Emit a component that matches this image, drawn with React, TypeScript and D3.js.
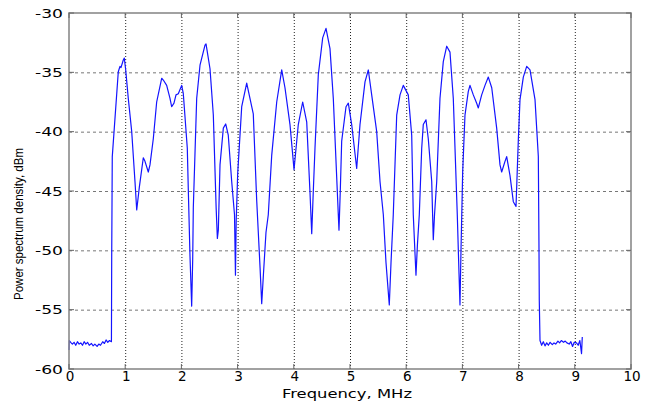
import React, { useEffect, useRef } from "react";
import * as d3 from "d3";

const freqMHz = [
  0, 0.005, 0.03, 0.06, 0.09, 0.12, 0.15, 0.18, 0.21, 0.24, 0.27, 0.3, 0.33, 0.36, 0.4, 0.43,
  0.46, 0.5, 0.53, 0.56, 0.6, 0.63, 0.66, 0.69, 0.72, 0.755, 0.76, 0.77, 0.877, 0.907, 0.925,
  0.966, 0.984, 1.009, 1.055, 1.116, 1.174, 1.205, 1.251, 1.322, 1.352, 1.411, 1.441, 1.5,
  1.56, 1.649, 1.678, 1.738, 1.797, 1.827, 1.868, 1.904, 1.945, 2.005, 2.034, 2.105, 2.123,
  2.153, 2.183, 2.201, 2.212, 2.272, 2.331, 2.42, 2.438, 2.509, 2.568, 2.618, 2.64, 2.657,
  2.687, 2.746, 2.788, 2.834, 2.895, 2.945, 2.962, 2.975, 3.002, 3.073, 3.162, 3.279, 3.34,
  3.4, 3.429, 3.46, 3.505, 3.546, 3.607, 3.696, 3.785, 3.843, 3.932, 4.004, 4.08, 4.158, 4.23,
  4.288, 4.319, 4.347, 4.377, 4.436, 4.514, 4.573, 4.644, 4.703, 4.792, 4.804, 4.827, 4.852,
  4.929, 4.97, 5.03, 5.119, 5.178, 5.267, 5.326, 5.386, 5.475, 5.534, 5.593, 5.64, 5.699,
  5.73, 5.77, 5.831, 5.89, 5.948, 6.037, 6.098, 6.126, 6.174, 6.2, 6.233, 6.276, 6.304, 6.352,
  6.393, 6.454, 6.482, 6.504, 6.543, 6.601, 6.66, 6.721, 6.779, 6.838, 6.909, 6.94, 6.957,
  6.975, 7.005, 7.046, 7.105, 7.135, 7.194, 7.254, 7.283, 7.343, 7.402, 7.461, 7.522, 7.61,
  7.669, 7.699, 7.758, 7.788, 7.847, 7.906, 7.954, 7.995, 8.025, 8.084, 8.144, 8.203, 8.292,
  8.351, 8.363, 8.368, 8.381, 8.41, 8.44, 8.47, 8.5, 8.53, 8.56, 8.6, 8.63, 8.66, 8.7, 8.73,
  8.76, 8.8, 8.83, 8.86, 8.9, 8.93, 8.96, 8.99, 9.03, 9.06, 9.09, 9.12, 9.133,
];

const psdDbm = [
  -58.4, -57.6, -57.75, -57.9, -57.75, -58.0, -57.7, -57.9, -57.8, -58.0, -57.7, -57.9, -57.75,
  -58.0, -57.85, -58.05, -57.9, -58.1, -57.9, -58.0, -57.7, -57.85, -57.55, -57.75, -57.6,
  -57.7, -50.4, -42.1, -34.95, -34.5, -34.6, -33.96, -33.8, -34.8, -37.2, -40.0, -44.2, -46.6,
  -44.7, -42.2, -42.5, -43.4, -42.8, -40.6, -37.5, -35.5, -35.65, -36.1, -37.2, -37.9, -37.6,
  -36.9, -36.8, -36.1, -36.8, -41.4, -44.9, -50.5, -54.7, -50.8, -46.4, -37.2, -34.4, -32.7,
  -32.6, -34.7, -38.6, -46.4, -49.0, -48.3, -42.8, -39.7, -39.35, -40.3, -44.2, -47, -52.1,
  -47.5, -43.5, -37.9, -35.9, -38.5, -45.8, -51.5, -54.5, -52, -48.5, -47, -42, -37.5, -34.8,
  -36.3, -39.4, -43.2, -39.4, -37.5, -39.2, -45.1, -48.6, -45, -41.4, -35.2, -32.1, -31.3, -33,
  -37.2, -47, -48.3, -45, -40.8, -37.9, -37.6, -39.4, -43.1, -39.4, -35.8, -34.8, -36.9, -40,
  -44.2, -47, -51, -54.6, -51, -47, -38.6, -36.9, -36.1, -36.9, -40.3, -47, -52.1, -49.5, -47,
  -41.4, -39.4, -39, -40.6, -44.2, -49.1, -47, -44.2, -37.2, -34.1, -32.8, -33.3, -37.2, -47,
  -52, -54.6, -50, -43.4, -38.6, -36.6, -36.1, -36.9, -37.6, -38, -36.9, -36.1, -35.4, -36.3,
  -39.7, -42.8, -43.4, -42.5, -42.1, -43.7, -45.9, -46.3, -40.7, -37.3, -35.4, -34.5, -34.8,
  -37.3, -42.1, -50, -54.2, -57.6, -58.0, -57.7, -58.05, -57.8, -58.0, -57.75, -57.95, -57.8,
  -57.9, -57.65, -57.8, -57.6, -57.75, -57.65, -57.8, -57.9, -57.7, -58.1, -57.75, -57.8,
  -58.0, -57.6, -58.7, -57.3,
];

const xTicks = [0, 1, 2, 3, 4, 5, 6, 7, 8, 9, 10];
const yTicks = [-60, -55, -50, -45, -40, -35, -30];

const W = 645;
const H = 401;
const margin = { left: 69, right: 14, top: 13, bottom: 32 };

const App = () => {
  const svgRef = useRef<SVGSVGElement>(null);

  useEffect(() => {
    const svg = d3.select(svgRef.current);
    svg.selectAll("*").remove();

    const x = d3.scaleLinear().domain([0, 10]).range([margin.left, W - margin.right]);
    const y = d3.scaleLinear().domain([-60, -30]).range([H - margin.bottom, margin.top]);

    svg.append("rect").attr("width", W).attr("height", H).attr("fill", "#fff");

    // grid: vertical dotted, horizontal dashed
    svg.append("g")
      .selectAll("line")
      .data(xTicks.slice(1, -1))
      .join("line")
      .attr("x1", d => x(d) + 0.5)
      .attr("x2", d => x(d) + 0.5)
      .attr("y1", y(-60))
      .attr("y2", y(-30))
      .attr("stroke", "#222")
      .attr("stroke-width", 1)
      .attr("stroke-dasharray", "1,2");

    svg.append("g")
      .selectAll("line")
      .data(yTicks.slice(1, -1))
      .join("line")
      .attr("x1", x(0))
      .attr("x2", x(10))
      .attr("y1", d => y(d) + 0.5)
      .attr("y2", d => y(d) + 0.5)
      .attr("stroke", "#777")
      .attr("stroke-width", 1)
      .attr("stroke-dasharray", "3,3");

    // spectrum trace
    const pts = freqMHz.map((f, i) => [f, psdDbm[i]] as [number, number]);
    const line = d3.line<[number, number]>()
      .x(d => x(d[0]))
      .y(d => y(d[1]));

    svg.append("path")
      .datum(pts)
      .attr("d", line)
      .attr("fill", "none")
      .attr("stroke", "#1414ff")
      .attr("stroke-width", 1.2)
      .attr("stroke-linejoin", "round");

    // box + inward ticks
    svg.append("rect")
      .attr("x", x(0))
      .attr("y", y(-30))
      .attr("width", x(10) - x(0))
      .attr("height", y(-60) - y(-30))
      .attr("fill", "none")
      .attr("stroke", "#8a8a8a")
      .attr("stroke-width", 1.6);

    const tk = svg.append("g").attr("stroke", "#666").attr("stroke-width", 1);
    xTicks.forEach(t => {
      tk.append("line").attr("x1", x(t)).attr("x2", x(t)).attr("y1", y(-60)).attr("y2", y(-60) - 5);
      tk.append("line").attr("x1", x(t)).attr("x2", x(t)).attr("y1", y(-30)).attr("y2", y(-30) + 5);
    });
    yTicks.forEach(t => {
      tk.append("line").attr("x1", x(0)).attr("x2", x(0) + 5).attr("y1", y(t)).attr("y2", y(t));
      tk.append("line").attr("x1", x(10)).attr("x2", x(10) - 5).attr("y1", y(t)).attr("y2", y(t));
    });

    // tick labels
    svg.append("g")
      .selectAll("text")
      .data(yTicks)
      .join("text")
      .attr("x", 63)
      .attr("y", d => y(d) + 4.5)
      .attr("text-anchor", "end")
      .attr("font-family", "DejaVu Sans, Verdana, sans-serif")
      .attr("font-size", 12)
      .attr("textLength", 28)
      .attr("lengthAdjust", "spacingAndGlyphs")
      .attr("fill", "#000")
      .text(d => d);

    svg.append("g")
      .selectAll("text")
      .data(xTicks)
      .join("text")
      .attr("x", d => x(d) + 1)
      .attr("y", 381)
      .attr("text-anchor", "middle")
      .attr("font-family", "DejaVu Sans, Verdana, sans-serif")
      .attr("font-size", 13.5)
      .attr("fill", "#000")
      .text(d => d);

    // axis titles
    svg.append("text")
      .attr("x", 347)
      .attr("y", 398)
      .attr("text-anchor", "middle")
      .attr("font-family", "DejaVu Sans, Verdana, sans-serif")
      .attr("font-size", 13)
      .attr("textLength", 130)
      .attr("lengthAdjust", "spacingAndGlyphs")
      .attr("fill", "#000")
      .text("Frequency, MHz");

    svg.append("text")
      .attr("transform", "translate(23,224) rotate(-90)")
      .attr("text-anchor", "middle")
      .attr("font-family", "Liberation Sans, Arial, sans-serif")
      .attr("font-size", 13)
      .attr("textLength", 152)
      .attr("lengthAdjust", "spacingAndGlyphs")
      .attr("fill", "#000")
      .text("Power spectrum density, dBm");
  }, []);

  return (
    <svg
      ref={svgRef}
      width={W}
      height={H}
      style={{ position: "absolute", left: 0, top: 0, display: "block" }}
    ></svg>
  );
};

export default App;
